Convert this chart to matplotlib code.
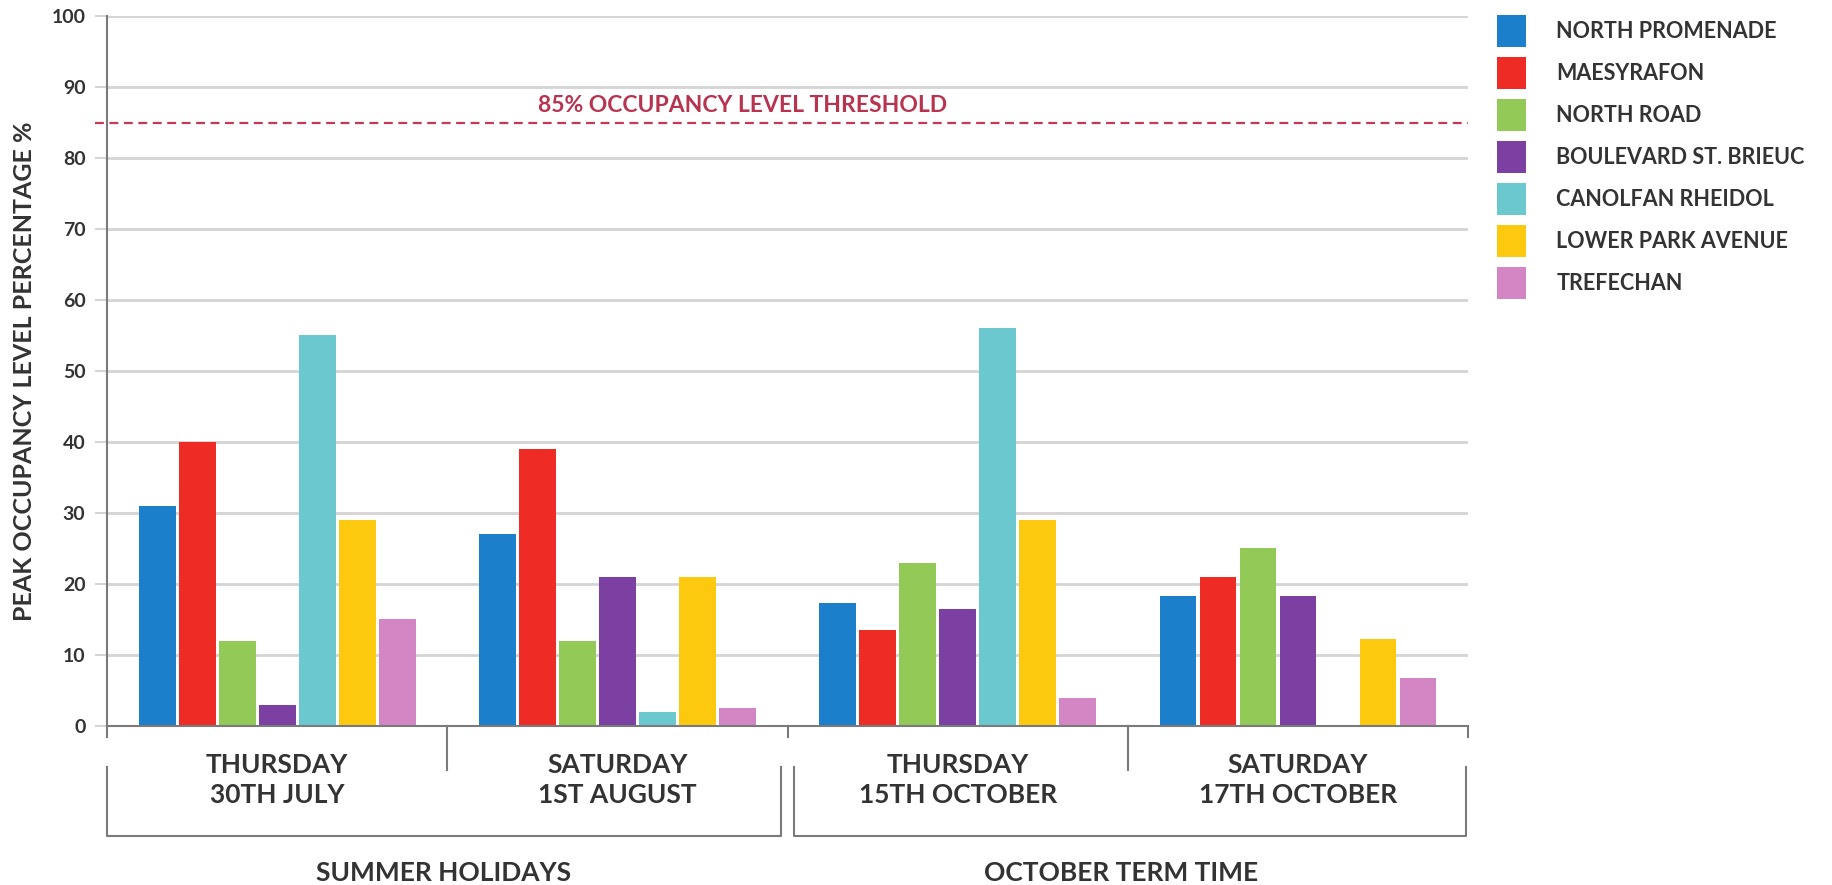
"""
Peak car park occupancy by site, summer holidays vs October term time.
Grouped bar chart with an 85% threshold line and two-level x labels.
"""

import matplotlib
matplotlib.use("Agg")
import matplotlib.pyplot as plt
import matplotlib.transforms as mtransforms
from matplotlib.patches import Patch
import numpy as np

# --- Data ---
days = ["THURSDAY\n30TH JULY", "SATURDAY\n1ST AUGUST",
        "THURSDAY\n15TH OCTOBER", "SATURDAY\n17TH OCTOBER"]
periods = ["SUMMER HOLIDAYS", "OCTOBER TERM TIME"]
sites = ["NORTH PROMENADE", "MAESYRAFON", "NORTH ROAD", "BOULEVARD ST. BRIEUC",
         "CANOLFAN RHEIDOL", "LOWER PARK AVENUE", "TREFECHAN"]

north_promenade = [31, 27, 17.3, 18.3]
maesyrafon = [40, 39, 13.5, 21]
north_road = [12, 12, 23, 25]
boulevard = [3, 21, 16.5, 18.3]
canolfan = [55, 2, 56, 0]
lower_park = [29, 21, 29, 12.2]
trefechan = [15, 2.5, 4, 6.7]

threshold = 85

colors = ["#1b7fcc", "#ee2b24", "#93c957", "#7b40a1",
          "#6cc8cf", "#fdc90f", "#d386c3"]
text_col = "#333333"
grid_col = "#d4d4d4"
axis_col = "#7a7a7a"

plt.rcParams["font.family"] = ["Lato", "DejaVu Sans"]
plt.rcParams["font.weight"] = "bold"

series = [north_promenade, maesyrafon, north_road, boulevard,
          canolfan, lower_park, trefechan]

fig = plt.figure(figsize=(18.33, 8.85), dpi=100)
ax = fig.add_axes([0.0584, 0.1797, 0.7425, 0.8022])

x = np.arange(len(days))
step = 0.1176
width = 0.108
for i, (vals, col) in enumerate(zip(series, colors)):
    ax.bar(x + (i - 3) * step, vals, width, color=col, zorder=3)

ax.set_xlim(-0.5, 3.5)
ax.set_ylim(0, 100)
ax.set_yticks(range(0, 101, 10))
ax.yaxis.grid(True, color=grid_col, lw=2, zorder=0)
ax.tick_params(axis="y", length=8.6, width=1.5, color=grid_col, pad=7,
               labelsize=14, labelcolor=text_col)
ax.set_xticks([])
for s in ["top", "right"]:
    ax.spines[s].set_visible(False)
for s in ["left", "bottom"]:
    ax.spines[s].set_color(axis_col)
    ax.spines[s].set_linewidth(1.5)
    ax.spines[s].set_zorder(4)

ax.set_ylabel("PEAK OCCUPANCY LEVEL PERCENTAGE %", fontsize=18,
              color=text_col, fontweight="bold")
ax.yaxis.set_label_coords(-0.052, 0.5)

# --- 85% threshold ---
ax.axhline(threshold, xmin=-0.009, xmax=1.0, color="#c43a55", lw=1.6,
           ls=(0, (4, 2.5)), zorder=2, clip_on=False)
ax.text(0.467, threshold + 0.9, "85% OCCUPANCY LEVEL THRESHOLD", ha="center",
        va="bottom", color="#b8334f", fontsize=16.5, fontweight="bold",
        transform=mtransforms.blended_transform_factory(ax.transAxes, ax.transData))

# --- two-level x labels ---
trans = mtransforms.blended_transform_factory(ax.transData, ax.transAxes)
lk = dict(color=axis_col, lw=1.5, transform=trans, clip_on=False)
for xs in [0.5, 2.5]:
    ax.plot([xs, xs], [0, -0.062], **lk)
for xs in [-0.5, 1.5, 3.5]:
    ax.plot([xs, xs], [0, -0.016], **lk)
for x0, x1 in [(-0.5, 1.48), (1.52, 3.495)]:
    ax.plot([x0, x0, x1, x1], [-0.058, -0.155, -0.155, -0.058], **lk)

for xi, d in zip(x, days):
    ax.text(xi, -0.076, d, transform=trans, ha="center", va="center",
            fontsize=19, color=text_col, fontweight="bold", linespacing=1.3)
for xi, p in zip([0.49, 2.48], periods):
    ax.text(xi, -0.207, p, transform=trans, ha="center", va="center",
            fontsize=19, color=text_col, fontweight="bold")

# --- legend ---
handles = [Patch(facecolor=c, edgecolor="none") for c in colors]
fig.legend(handles, sites, loc="upper left", bbox_to_anchor=(0.8167, 0.983),
           frameon=False, fontsize=15.5, handlelength=1.35, handleheight=1.93,
           handletextpad=1.4, labelspacing=0.45, borderpad=0, borderaxespad=0,
           labelcolor=text_col)

fig.savefig("out.png", dpi=100)
